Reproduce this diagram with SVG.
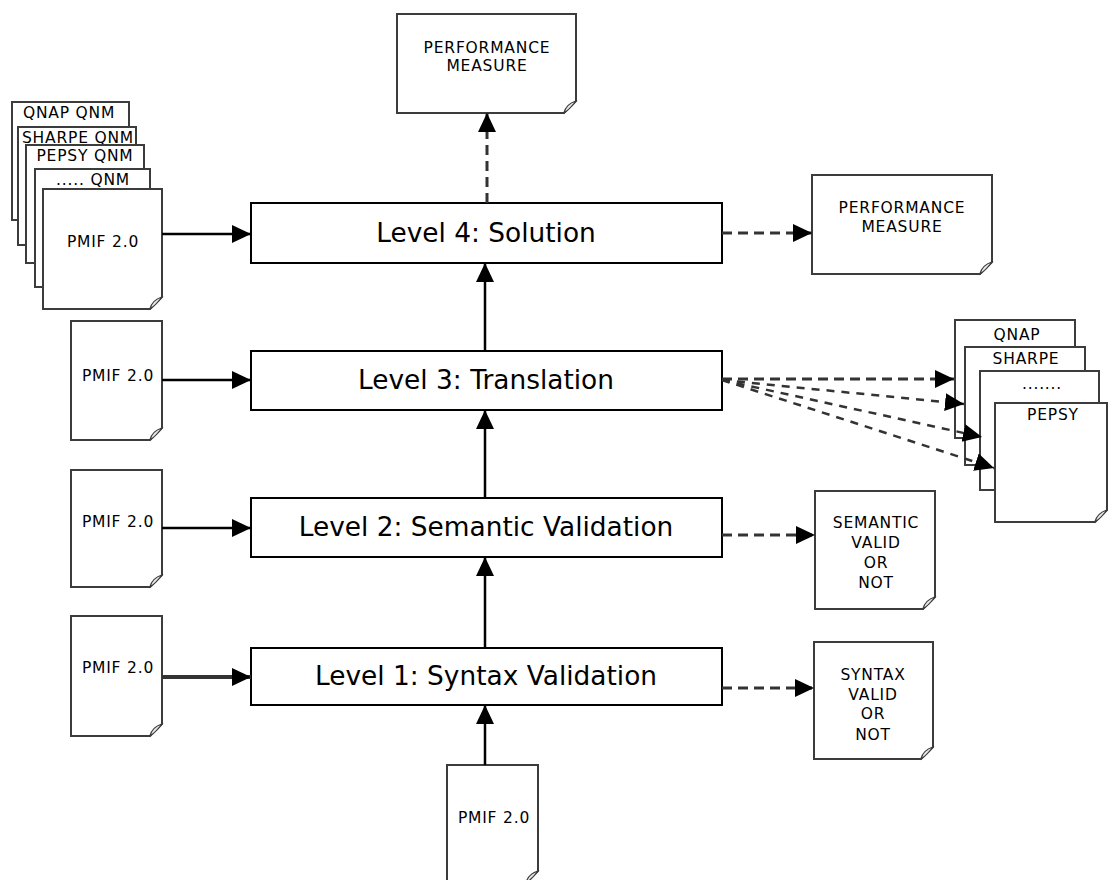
<svg xmlns="http://www.w3.org/2000/svg" width="1108" height="880" viewBox="0 0 1108 880">
  <style>
    .doc { fill: #ffffff; stroke: #3c3c3c; stroke-width: 2; }
    .curl { fill: #e6e6e6; stroke: #3c3c3c; stroke-width: 1.2; }
    .level { fill: #ffffff; stroke: #000000; stroke-width: 2; }
    .ltxt { font-family: "DejaVu Sans", Verdana, sans-serif; font-size: 26.4px; fill: #000; text-anchor: middle; }
    .dtxt { font-family: "DejaVu Sans", Verdana, sans-serif; font-size: 15.5px; letter-spacing: 0.8px; fill: #000; text-anchor: middle; }
    .solid { fill: none; stroke: #000; stroke-width: 2.5; }
    .thick { fill: none; stroke: #333; stroke-width: 4; }
    .dash { fill: none; stroke: #333; stroke-width: 3; stroke-dasharray: 10 6; }
    .fan { fill: none; stroke: #333; stroke-width: 2.5; stroke-dasharray: 8 7; }
  </style>
  <defs>
    <marker id="arrow" markerUnits="userSpaceOnUse" markerWidth="20" markerHeight="20" refX="19" refY="10" orient="auto">
      <path d="M0,1 L19,10 L0,19 Z" fill="#000"/>
    </marker>
  </defs>

  <rect width="1108" height="880" fill="#ffffff"/>

  <!-- processing levels -->
  <g id="level4"><rect class="level" x="251" y="203" width="471" height="60"/><text class="ltxt" x="486" y="242">Level 4: Solution</text></g>
  <g id="level3"><rect class="level" x="251" y="351" width="471" height="59"/><text class="ltxt" x="486" y="389">Level 3: Translation</text></g>
  <g id="level2"><rect class="level" x="251" y="498" width="471" height="59"/><text class="ltxt" x="486" y="536">Level 2: Semantic Validation</text></g>
  <g id="level1"><rect class="level" x="251" y="648" width="471" height="57"/><text class="ltxt" x="486" y="685">Level 1: Syntax Validation</text></g>

  <!-- output documents -->
  <g id="perf-top">
    <path class="doc" d="M397,14 H576 V101 L564,113 H397 Z"/>
    <path class="curl" d="M564,113 Q566,104 576,101 Q570,109 564,113 Z"/>
    <text class="dtxt" x="487" y="53">PERFORMANCE</text>
    <text class="dtxt" x="487" y="71">MEASURE</text>
  </g>
  <g id="perf-right">
    <path class="doc" d="M812,175 H992 V262 L980,274 H812 Z"/>
    <path class="curl" d="M980,274 Q982,265 992,262 Q986,270 980,274 Z"/>
    <text class="dtxt" x="902" y="213">PERFORMANCE</text>
    <text class="dtxt" x="902" y="232">MEASURE</text>
  </g>
  <g id="semantic-result">
    <path class="doc" d="M815,491 H935 V597 L923,609 H815 Z"/>
    <path class="curl" d="M923,609 Q925,600 935,597 Q929,605 923,609 Z"/>
    <text class="dtxt" x="876" y="528">SEMANTIC</text>
    <text class="dtxt" x="876" y="548">VALID</text>
    <text class="dtxt" x="876" y="568">OR</text>
    <text class="dtxt" x="876" y="588">NOT</text>
  </g>
  <g id="syntax-result">
    <path class="doc" d="M814,642 H933 V747 L921,759 H814 Z"/>
    <path class="curl" d="M921,759 Q923,750 933,747 Q927,755 921,759 Z"/>
    <text class="dtxt" x="873" y="680">SYNTAX</text>
    <text class="dtxt" x="873" y="700">VALID</text>
    <text class="dtxt" x="873" y="719">OR</text>
    <text class="dtxt" x="873" y="740">NOT</text>
  </g>

  <!-- PMIF input documents -->
  <g id="pmif-level3">
    <path class="doc" d="M71,321 H162 V428 L150,440 H71 Z"/>
    <path class="curl" d="M150,440 Q152,431 162,428 Q156,436 150,440 Z"/>
    <text class="dtxt" x="118" y="381">PMIF 2.0</text>
  </g>
  <g id="pmif-level2">
    <path class="doc" d="M71,470 H162 V575 L150,587 H71 Z"/>
    <path class="curl" d="M150,587 Q152,578 162,575 Q156,583 150,587 Z"/>
    <text class="dtxt" x="118" y="527">PMIF 2.0</text>
  </g>
  <g id="pmif-level1">
    <path class="doc" d="M71,616 H162 V724 L150,736 H71 Z"/>
    <path class="curl" d="M150,736 Q152,727 162,724 Q156,732 150,736 Z"/>
    <text class="dtxt" x="118" y="673">PMIF 2.0</text>
  </g>
  <g id="pmif-bottom">
    <path class="doc" d="M447,765 H538 V871 L526,883 H447 Z"/>
    <path class="curl" d="M526,883 Q528,874 538,871 Q532,879 526,883 Z"/>
    <text class="dtxt" x="494" y="823">PMIF 2.0</text>
  </g>

  <!-- solver input stack -->
  <g id="stack-qnap-qnm">
    <path class="doc" d="M12,102 H129 V208 L117,220 H12 Z"/>
    <text class="dtxt" x="69" y="118">QNAP QNM</text>
  </g>
  <g id="stack-sharpe-qnm">
    <path class="doc" d="M18,127 H136 V233 L124,245 H18 Z"/>
    <text class="dtxt" x="78" y="143">SHARPE QNM</text>
  </g>
  <g id="stack-pepsy-qnm">
    <path class="doc" d="M26,145 H144 V251 L132,263 H26 Z"/>
    <text class="dtxt" x="85" y="161">PEPSY QNM</text>
  </g>
  <g id="stack-other-qnm">
    <path class="doc" d="M35,169 H150 V275 L138,287 H35 Z"/>
    <text class="dtxt" x="93" y="185">..... QNM</text>
  </g>
  <g id="stack-pmif">
    <path class="doc" d="M43,189 H162 V297 L150,309 H43 Z"/>
    <path class="curl" d="M150,309 Q152,300 162,297 Q156,305 150,309 Z"/>
    <text class="dtxt" x="103" y="247">PMIF 2.0</text>
  </g>

  <!-- translation output stack -->
  <g id="out-qnap">
    <path class="doc" d="M955,320 H1075 V426 L1063,438 H955 Z"/>
    <text class="dtxt" x="1017" y="340">QNAP</text>
  </g>
  <g id="out-sharpe">
    <path class="doc" d="M965,347 H1085 V453 L1073,465 H965 Z"/>
    <text class="dtxt" x="1026" y="364">SHARPE</text>
  </g>
  <g id="out-other">
    <path class="doc" d="M980,371 H1099 V478 L1087,490 H980 Z"/>
    <text class="dtxt" x="1042" y="389">.......</text>
  </g>
  <g id="out-pepsy">
    <path class="doc" d="M995,403 H1107 V510 L1095,522 H995 Z"/>
    <path class="curl" d="M1095,522 Q1097,513 1107,510 Q1101,518 1095,522 Z"/>
    <text class="dtxt" x="1053" y="420">PEPSY</text>
  </g>

  <!-- connectors -->
  <g id="connectors">
    <path class="solid" d="M485,765 V705" marker-end="url(#arrow)"/>
    <path class="solid" d="M485,648 V557" marker-end="url(#arrow)"/>
    <path class="solid" d="M485,498 V410" marker-end="url(#arrow)"/>
    <path class="solid" d="M485,351 V263" marker-end="url(#arrow)"/>
    <path class="dash" d="M487,203 V113" marker-end="url(#arrow)"/>

    <path class="solid" d="M162,234 H251" marker-end="url(#arrow)"/>
    <path class="solid" d="M162,380 H251" marker-end="url(#arrow)"/>
    <path class="solid" d="M162,528 H251" marker-end="url(#arrow)"/>
    <path class="thick" d="M162,677 H251" marker-end="url(#arrow)"/>

    <path class="dash" d="M722,233 H812" marker-end="url(#arrow)"/>
    <path class="dash" d="M722,535 H815" marker-end="url(#arrow)"/>
    <path class="dash" d="M722,688 H814" marker-end="url(#arrow)"/>

    <path class="dash" d="M722,379 L954,379" marker-end="url(#arrow)"/>
    <path class="fan" d="M722,380 L964,404" marker-end="url(#arrow)"/>
    <path class="fan" d="M722,380 L982,437" marker-end="url(#arrow)"/>
    <path class="fan" d="M722,380 L994,468" marker-end="url(#arrow)"/>
  </g>
</svg>
